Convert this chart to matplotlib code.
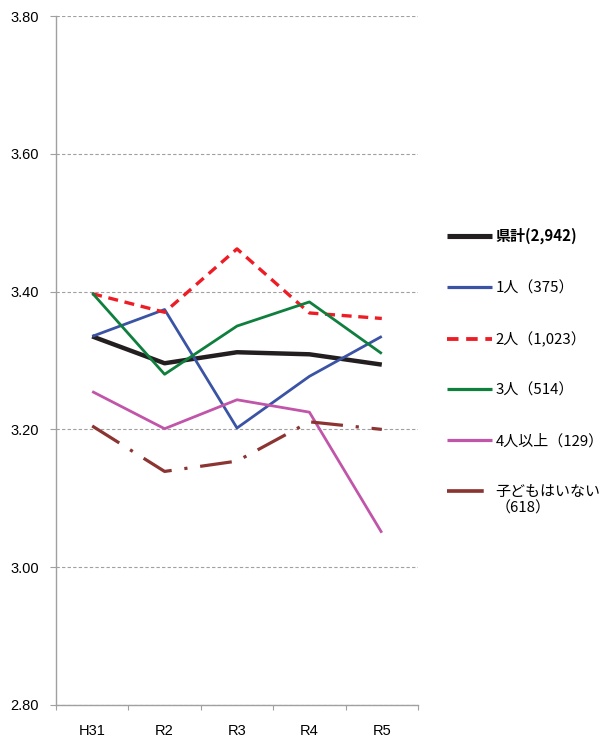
import matplotlib
matplotlib.use("Agg")
import matplotlib.pyplot as plt
from matplotlib.legend_handler import HandlerLine2D
import numpy as np

plt.rcParams['font.family'] = ['Liberation Sans', 'Noto Sans CJK JP']

categories = ["H31", "R2", "R3", "R4", "R5"]
total = [3.335, 3.296, 3.312, 3.309, 3.294]
one = [3.335, 3.374, 3.202, 3.277, 3.335]
two = [3.397, 3.370, 3.462, 3.369, 3.361]
three = [3.398, 3.280, 3.350, 3.385, 3.310]
four_plus = [3.255, 3.201, 3.243, 3.225, 3.050]
none = [3.205, 3.139, 3.154, 3.211, 3.200]

labels = ["県計(2,942)", "1人（375）", "2人（1,023）", "3人（514）", "4人以上（129）", "子どもはいない\n（618）"]
yticks = [2.80, 3.00, 3.20, 3.40, 3.60, 3.80]


class ShiftedHandler(HandlerLine2D):
    def __init__(self, dy=0.0, **kw):
        super().__init__(**kw)
        self.dy = dy

    def create_artists(self, legend, orig_handle, xdescent, ydescent,
                       width, height, fontsize, trans):
        arts = super().create_artists(legend, orig_handle, xdescent, ydescent,
                                      width, height, fontsize, trans)
        for a in arts:
            a.set_ydata(np.asarray(a.get_ydata()) + self.dy * fontsize)
        return arts


fig = plt.figure(figsize=(6.06, 7.46), dpi=100)
ax = fig.add_axes([56/606, 1-705/746, (418-56)/606, (705-16)/746])

x = np.arange(len(categories))
series = [
    (total, dict(color="#231f20", lw=3.2, ls="-")),
    (one, dict(color="#3a53a4", lw=2.0, ls="-")),
    (two, dict(color="#ee1c25", lw=2.4, ls=(0, (3, 2)))),
    (three, dict(color="#0e7f3c", lw=2.0, ls="-")),
    (four_plus, dict(color="#c055a9", lw=2.0, ls="-")),
    (none, dict(color="#8b3432", lw=2.3, ls=(0, (10, 4, 1, 4)))),
]
handles = []
for (vals, st), lab in zip(series, labels):
    h, = ax.plot(x, vals, label=lab, solid_capstyle="butt", dash_capstyle="butt", **st)
    handles.append(h)

ax.set_xlim(-0.5, len(categories) - 0.5)
ax.set_ylim(2.80, 3.80)
ax.set_yticks(yticks)
ax.set_yticklabels([f"{v:.2f}" for v in yticks], fontsize=10.5)
ax.yaxis.grid(True, color="#a0a0a0", ls=(0, (3, 2)), lw=0.8)
ax.set_axisbelow(True)

ax.set_xticks(np.arange(-0.5, len(categories), 1.0))
ax.set_xticklabels([])
ax.set_xticks(x, minor=True)
ax.set_xticklabels(categories, minor=True, fontsize=10.5)
ax.tick_params(axis="x", which="major", length=3.5, color="#a0a0a0")
ax.tick_params(axis="x", which="minor", length=0, pad=14)
ax.tick_params(axis="y", length=4, color="#a0a0a0", pad=8.5)

for s in ["top", "right"]:
    ax.spines[s].set_visible(False)
for s in ["left", "bottom"]:
    ax.spines[s].set_color("#a0a0a0")
    ax.spines[s].set_linewidth(1.0)

leg = fig.legend(handles=handles, labels=labels, loc="upper left",
                 bbox_to_anchor=(435/606, 1-216/746), frameon=False,
                 prop={'family': ['Noto Sans CJK JP'], 'size': 10.8},
                 handlelength=3.0, handletextpad=0.25,
                 labelspacing=2.42, borderpad=0.3,
                 handler_map={handles[-1]: ShiftedHandler(dy=0.62)})
for t in leg.get_texts():
    if t.get_text().startswith("県計"):
        t.set_fontweight("bold")
for lh in leg.get_lines():
    lh.set_linewidth(lh.get_linewidth() * 1.15)

fig.savefig("out.png", dpi=100)
